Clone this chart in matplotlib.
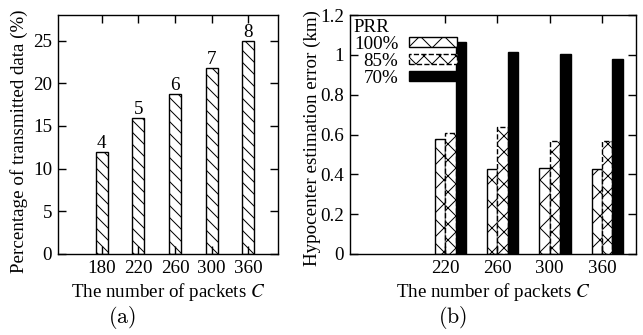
import numpy as np
import matplotlib
matplotlib.use("Agg")
import matplotlib.pyplot as plt
from matplotlib.ticker import FormatStrFormatter

plt.rcParams['font.family'] = ['Liberation Serif', 'DejaVu Serif']
plt.rcParams['mathtext.fontset'] = 'stix'
plt.rcParams['hatch.linewidth'] = 0.5
plt.rcParams['axes.linewidth'] = 0.7

# (a) data
packets_a = ['180', '220', '260', '300', '360']
percent_sent = [12.0, 15.9, 18.8, 21.8, 25.0]
bar_labels = ['4', '5', '6', '7', '8']

# (b) data
packets_b = ['220', '260', '300', '360']
prr_names = ['100%', '85%', '70%']
err_100 = [0.577, 0.425, 0.430, 0.425]
err_85 = [0.610, 0.638, 0.566, 0.566]
err_70 = [1.066, 1.016, 1.003, 0.979]

dpi = 144
fig = plt.figure(figsize=(643 / dpi, 335 / dpi), dpi=dpi)
ax1 = fig.add_axes([0.0902, 0.2418, 0.3421, 0.7134])
ax2 = fig.add_axes([0.5443, 0.2418, 0.4448, 0.7134])

fs = 9.5

# ---- panel (a)
x = np.arange(len(packets_a))
bars = ax1.bar(x, percent_sent, width=1/3, facecolor='white', edgecolor='black',
               linewidth=0.7, hatch='\\\\\\\\')
ax1.bar_label(bars, labels=bar_labels, padding=0, fontsize=fs)
ax1.set_xlim(-1.19, 4.81)
ax1.set_ylim(0, 28)
ax1.set_xticks(x)
ax1.set_xticklabels(packets_a)
ax1.set_yticks(np.arange(0, 26, 5))
ax1.set_ylabel('Percentage of transmitted data (%)', fontsize=fs)
ax1.yaxis.set_label_coords(-0.135, 0.47)
ax1.set_xlabel('The number of packets $C$', fontsize=fs, labelpad=2)
ax1.text(0.29, -0.265, r'$\mathrm{(a)}$', transform=ax1.transAxes, ha='center',
         va='center', fontsize=11, math_fontfamily='cm')

# ---- panel (b)
xb = np.arange(len(packets_b))
w = 0.2
ax2.bar(xb - 0.1, err_100, width=w, facecolor='white', edgecolor='black',
        linewidth=0.7, hatch='xx', label=prr_names[0])
ax2.bar(xb + 0.1, err_85, width=w, facecolor='white', edgecolor='black',
        linewidth=0.7, linestyle='--', hatch='xxx', label=prr_names[1])
ax2.bar(xb + 0.3, err_70, width=w, facecolor='black', edgecolor='black',
        linewidth=0.7, label=prr_names[2])
ax2.set_xlim(-1.82, 3.65)
ax2.set_ylim(0, 1.2)
ax2.set_xticks(xb)
ax2.set_xticklabels(packets_b)
ax2.set_yticks(np.arange(0, 1.21, 0.2))
ax2.yaxis.set_major_formatter(FormatStrFormatter('%g'))
ax2.set_ylabel('Hypocenter estimation error (km)', fontsize=fs)
ax2.yaxis.set_label_coords(-0.1, 0.485)
ax2.set_xlabel('The number of packets $C$', fontsize=fs, labelpad=2)
ax2.text(0.36, -0.265, r'$\mathrm{(b)}$', transform=ax2.transAxes, ha='center',
         va='center', fontsize=11, math_fontfamily='cm')

leg = ax2.legend(loc='upper left', title='PRR', fontsize=fs, title_fontsize=fs,
                 markerfirst=False, frameon=False, alignment='left',
                 handlelength=2.55, handleheight=0.4, handletextpad=0.55,
                 labelspacing=0.0, borderpad=0.1, borderaxespad=0.1)

for ax in (ax1, ax2):
    ax.tick_params(direction='in', length=4, width=0.7, top=True, right=True,
                   labelsize=fs, pad=3)

fig.savefig('out.png', dpi=dpi)
